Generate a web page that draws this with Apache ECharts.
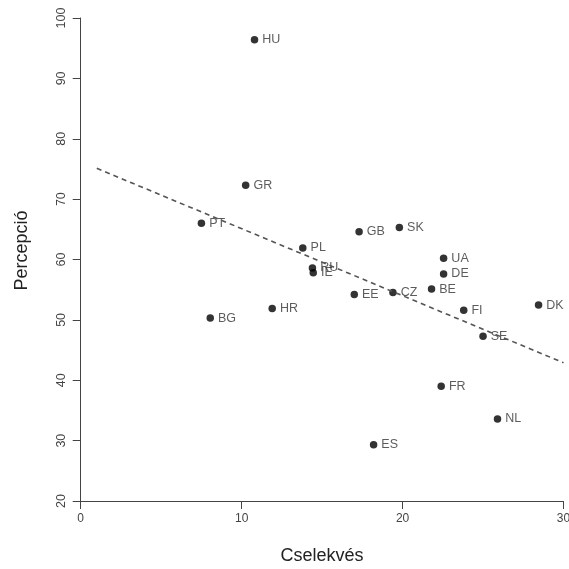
<!DOCTYPE html>
<html>
<head>
<meta charset="utf-8">
<script src="https://cdn.jsdelivr.net/npm/echarts@6/dist/echarts.min.js"></script>
<style>html,body{margin:0;padding:0;background:#fff}#c{width:569px;height:569px}</style>
</head>
<body>
<div id="c"></div>
<script>
var countries = ['HU','GR','PT','PL','RU','IE','GB','SK','UA','DE','BE','CZ','EE','FI','DK','SE','FR','NL','ES','HR','BG'];
var cselekves = [10.8,10.25,7.5,13.8,14.4,14.45,17.3,19.8,22.55,22.55,21.8,19.4,17.0,23.8,28.45,25.0,22.4,25.9,18.2,11.9,8.05];
var percepcio = [96.4,72.3,66.0,61.9,58.6,57.8,64.6,65.3,60.2,57.6,55.1,54.55,54.2,51.6,52.45,47.3,39.0,33.6,29.3,51.9,50.3];
var trendX = [1, 30];
var trendY = [75.1, 42.9];
var xTicks = [0, 10, 20, 30];
var yTicks = [20, 30, 40, 50, 60, 70, 80, 90, 100];

var pts = countries.map(function(c, i){ return {name: c, value: [cselekves[i], percepcio[i]]}; });
var trend = trendX.map(function(x, i){ return [x, trendY[i]]; });

var font = 'Liberation Sans, Arial, sans-serif';
var chart = echarts.init(document.getElementById('c'), null, {renderer: 'canvas'});
chart.setOption({
  animation: false,
  backgroundColor: '#fff',
  grid: {left: 80.7, right: 5.5, top: 18, bottom: 68, containLabel: false, outerBoundsMode: 'none'},
  xAxis: {
    type: 'value', min: xTicks[0], max: xTicks[xTicks.length-1], interval: 10,
    name: 'Cselekvés', nameLocation: 'middle', nameGap: 46,
    nameTextStyle: {fontFamily: font, fontSize: 18, color: '#222'},
    axisLine: {show: true, lineStyle: {color: '#444', width: 1}},
    axisTick: {show: true, length: 8, lineStyle: {color: '#444'}},
    axisLabel: {fontFamily: font, fontSize: 12, color: '#444', margin: 12},
    splitLine: {show: false}
  },
  yAxis: {
    type: 'value', min: yTicks[0], max: yTicks[yTicks.length-1], interval: 10,
    name: 'Percepció', nameLocation: 'middle', nameGap: 50, nameRotate: 90,
    nameTextStyle: {fontFamily: font, fontSize: 18, color: '#222', padding: [0, 0, 0, 18]},
    axisLine: {show: true, lineStyle: {color: '#444', width: 1}},
    axisTick: {show: true, length: 8, lineStyle: {color: '#444'}},
    axisLabel: {fontFamily: font, fontSize: 12.5, color: '#444', margin: 13, rotate: 90},
    splitLine: {show: false}
  },
  series: [
    {
      type: 'line', data: trend, symbol: 'none', silent: true,
      lineStyle: {color: '#555', width: 1.6, type: [5, 4]}
    },
    {
      type: 'scatter', data: pts, symbol: 'circle', symbolSize: 7.5,
      itemStyle: {color: '#000'},
      label: {show: true, position: 'right', distance: 4, formatter: '{b}',
        fontFamily: font, fontSize: 12.5, color: '#333'}
    }
  ]
});
</script>
</body>
</html>
